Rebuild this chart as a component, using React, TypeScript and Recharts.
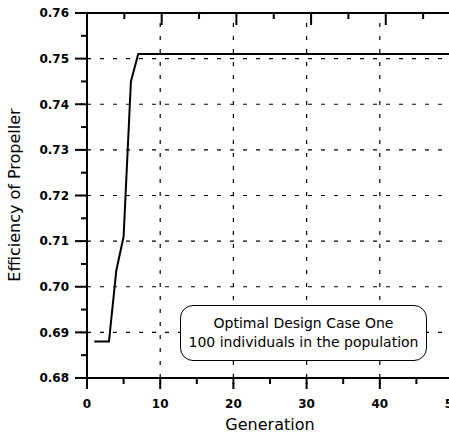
import { Line, LineChart, ReferenceLine, XAxis, YAxis } from "recharts";

// generation number and best efficiency found in that generation
const generations = [
  1, 2, 3, 4, 5, 6, 7, 8, 9, 10, 11, 12, 13, 14, 15, 16, 17, 18, 19, 20, 21, 22, 23, 24, 25,
  26, 27, 28, 29, 30, 31, 32, 33, 34, 35, 36, 37, 38, 39, 40, 41, 42, 43, 44, 45, 46, 47, 48,
  49, 50,
];
const efficiency = [
  0.688, 0.688, 0.688, 0.7035, 0.711, 0.745, 0.751, 0.751, 0.751, 0.751, 0.751, 0.751, 0.751,
  0.751, 0.751, 0.751, 0.751, 0.751, 0.751, 0.751, 0.751, 0.751, 0.751, 0.751, 0.751, 0.751,
  0.751, 0.751, 0.751, 0.751, 0.751, 0.751, 0.751, 0.751, 0.751, 0.751, 0.751, 0.751, 0.751,
  0.751, 0.751, 0.751, 0.751, 0.751, 0.751, 0.751, 0.751, 0.751, 0.751, 0.751,
];

const xTicks = [0, 5, 10, 15, 20, 25, 30, 35, 40, 45, 50];
const xGrid = [10, 20, 30, 40];
const yTicks = [
  0.68, 0.685, 0.69, 0.695, 0.7, 0.705, 0.71, 0.715, 0.72, 0.725, 0.73, 0.735, 0.74, 0.745,
  0.75, 0.755, 0.76,
];
const yGrid = [0.69, 0.7, 0.71, 0.72, 0.73, 0.74, 0.75];

const xTitle = "Generation";
const yTitle = "Efficiency of Propeller";
const boxLines = ["Optimal Design Case One", "100 individuals in the population"];

const data = generations.map((g, i) => ({ gen: g, eff: efficiency[i] }));

const isMajorX = (v: number) => v % 10 === 0;
const isMajorY = (v: number) => Math.round(v * 1000) % 10 === 0;

// native tick lines are 6px (minor length); majors get an extra piece here
const LeftTick = ({ x, y, payload }: any) => {
  const major = isMajorY(payload.value);
  if (!major) return <g />;
  return (
    <g>
      <path d={`M${x - 6},${y}H${x + 1}`} stroke="#000" strokeWidth={2} fill="none" />
      <text x={x - 12} y={y} dy="0.36em" textAnchor="end" fontSize={12} fontWeight="bold" fill="#000">
        {payload.value.toFixed(2)}
      </text>
    </g>
  );
};

const BottomTick = ({ x, y, payload }: any) => {
  const major = isMajorX(payload.value);
  if (!major) return <g />;
  return (
    <g>
      <path d={`M${x},${y - 1}V${y + 5}`} stroke="#000" strokeWidth={2} fill="none" />
      <text x={x} y={y + 20} dy="0.36em" textAnchor="middle" fontSize={12} fontWeight="bold" fill="#000">
        {payload.value}
      </text>
    </g>
  );
};

const RightTick = ({ x, y, payload }: any) => {
  const major = isMajorY(payload.value);
  return <path d={`M${x - (major ? 13 : 6)},${y}H${x}`} stroke="#000" strokeWidth={2} fill="none" />;
};

const TopTick = ({ x, y, payload }: any) => {
  const major = isMajorX(payload.value);
  return <path d={`M${x},${y}V${y + (major ? 12 : 6)}`} stroke="#000" strokeWidth={2} fill="none" />;
};

const tickLineStyle = { stroke: "#000", strokeWidth: 2 };
const axisLineStyle = { stroke: "#000", strokeWidth: 2 };

export default function App() {
  return (
    <div
      style={{
        position: "fixed",
        left: 0,
        top: 0,
        width: 449,
        height: 434,
        overflow: "hidden",
        background: "#fff",
        fontFamily: "'DejaVu Sans', Verdana, sans-serif",
      }}
    >
      <LineChart width={470} height={434} data={data} margin={{ top: 12, right: 16, left: 0, bottom: 0 }}>
        <XAxis
          xAxisId="bottom"
          dataKey="gen"
          type="number"
          domain={[0, 50]}
          ticks={xTicks}
          interval={0}
          height={56}
          tickSize={6}
          tickMargin={0}
          tickLine={tickLineStyle}
          stroke="#000"
          tick={BottomTick}
          axisLine={axisLineStyle}
        />
        <XAxis
          xAxisId="top"
          orientation="top"
          type="number"
          domain={[0, 50]}
          ticks={xTicks}
          interval={0}
          height={1}
          tickSize={0}
          tickMargin={0}
          tickLine={false}
          tick={TopTick}
          axisLine={axisLineStyle}
        />
        <YAxis
          yAxisId="left"
          type="number"
          domain={[0.68, 0.76]}
          ticks={yTicks}
          interval={0}
          width={87}
          tickSize={6}
          tickMargin={0}
          tickLine={tickLineStyle}
          stroke="#000"
          tick={LeftTick}
          axisLine={axisLineStyle}
        />
        <YAxis
          yAxisId="right"
          orientation="right"
          type="number"
          domain={[0.68, 0.76]}
          ticks={yTicks}
          interval={0}
          width={1}
          tickSize={0}
          tickMargin={0}
          tickLine={false}
          tick={RightTick}
          axisLine={axisLineStyle}
        />
        {yGrid.map((v) => (
          <ReferenceLine
            key={`y${v}`}
            xAxisId="bottom"
            yAxisId="left"
            y={v}
            stroke="#000"
            strokeWidth={1.2}
            strokeDasharray="4 9"
          />
        ))}
        {xGrid.map((v) => (
          <ReferenceLine
            key={`x${v}`}
            xAxisId="bottom"
            yAxisId="left"
            x={v}
            stroke="#000"
            strokeWidth={1.2}
            strokeDasharray="4 9"
          />
        ))}
        <Line
          xAxisId="bottom"
          yAxisId="left"
          type="linear"
          dataKey="eff"
          stroke="#000"
          strokeWidth={2}
          dot={false}
          isAnimationActive={false}
        />
      </LineChart>
      <svg
        width={449}
        height={434}
        style={{ position: "absolute", left: 0, top: 0, pointerEvents: "none" }}
      >
        <text x={270} y={424} dy="0.36em" textAnchor="middle" fontSize={16} fill="#000">
          {xTitle}
        </text>
        <text x={19.5} y={195} transform="rotate(-90 19.5 195)" textAnchor="middle" fontSize={16} fill="#000">
          {yTitle}
        </text>
      </svg>
      <div
        style={{
          position: "absolute",
          left: 180,
          top: 305,
          width: 247,
          height: 56,
          boxSizing: "border-box",
          border: "1.5px solid #000",
          borderRadius: 13,
          background: "#fff",
          display: "flex",
          flexDirection: "column",
          justifyContent: "center",
          alignItems: "center",
          fontSize: 14,
          lineHeight: "19px",
          color: "#000",
        }}
      >
        {boxLines.map((t) => (
          <div key={t}>{t}</div>
        ))}
      </div>
    </div>
  );
}
